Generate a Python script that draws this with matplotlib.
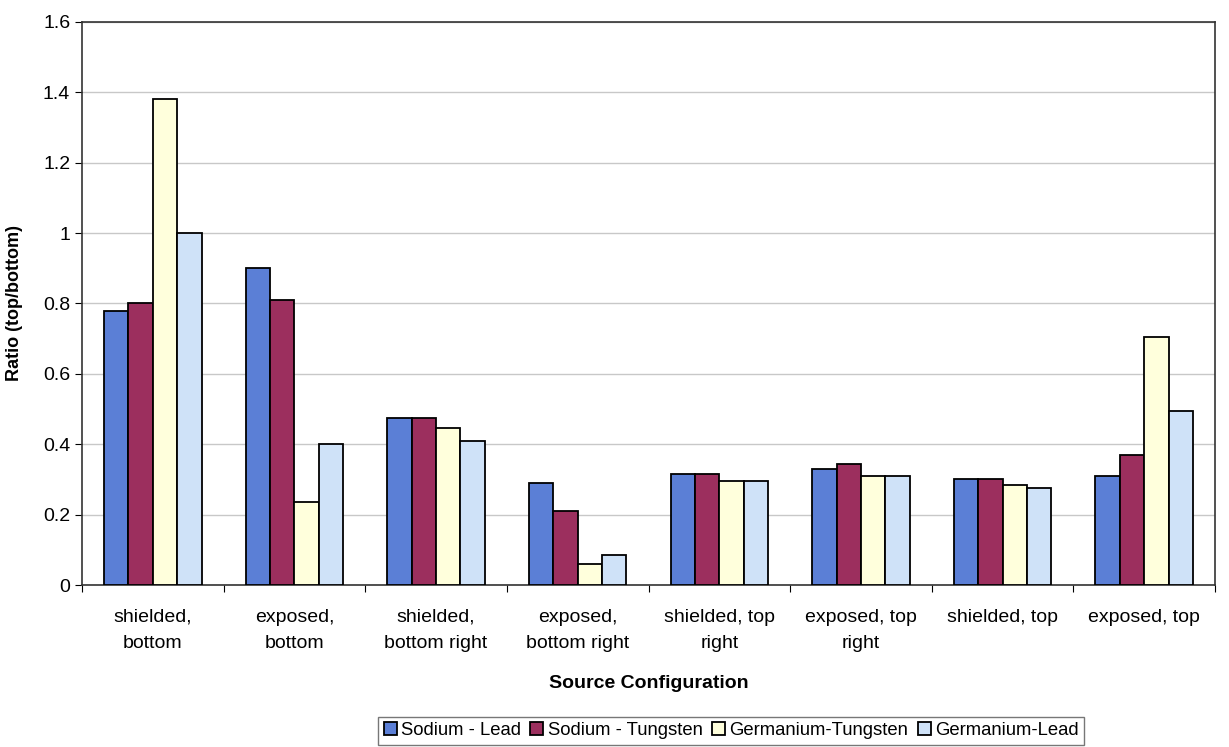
import numpy as np
import matplotlib.pyplot as plt

plt.rcParams['font.family'] = ['Liberation Sans', 'DejaVu Sans']

categories = ['shielded,\nbottom', 'exposed,\nbottom', 'shielded,\nbottom right',
              'exposed,\nbottom right', 'shielded, top\nright', 'exposed, top\nright',
              'shielded, top', 'exposed, top']
sodium_lead = [0.78, 0.90, 0.475, 0.29, 0.315, 0.33, 0.30, 0.31]
sodium_tungsten = [0.80, 0.81, 0.475, 0.21, 0.315, 0.345, 0.30, 0.37]
germanium_tungsten = [1.38, 0.235, 0.445, 0.06, 0.295, 0.31, 0.285, 0.705]
germanium_lead = [1.00, 0.40, 0.41, 0.085, 0.295, 0.31, 0.275, 0.495]

series = [('Sodium - Lead', sodium_lead, '#5b7fd6'),
          ('Sodium - Tungsten', sodium_tungsten, '#9c2f5e'),
          ('Germanium-Tungsten', germanium_tungsten, '#ffffdc'),
          ('Germanium-Lead', germanium_lead, '#cfe2f8')]

fig = plt.figure(figsize=(12.29, 7.47), dpi=100)
ax = fig.add_axes([82 / 1229, 1 - 585 / 747, (1215 - 82) / 1229, (585 - 22) / 747])

x = np.arange(len(categories))
w = 0.172
for i, (name, vals, col) in enumerate(series):
    ax.bar(x + (i - 1.5) * w, vals, w, color=col, edgecolor='black', linewidth=1.3, label=name, zorder=3)

ax.set_xlim(-0.5, len(categories) - 0.5)
ax.set_ylim(0, 1.6)
ax.set_yticks(np.arange(0, 1.61, 0.2))
ax.set_yticklabels(['0', '0.2', '0.4', '0.6', '0.8', '1', '1.2', '1.4', '1.6'])
ax.yaxis.grid(True, color='#c8c8c8', linewidth=1, zorder=0)
ax.set_xticks(np.arange(len(categories) + 1) - 0.5, minor=False)
ax.set_xticklabels([''] * (len(categories) + 1))
ax.set_xticks(x, minor=True)
ax.set_xticklabels(categories, minor=True, fontsize=14, linespacing=1.75)
ax.tick_params(axis='x', which='minor', length=0, pad=17)
ax.tick_params(axis='x', which='major', length=5, direction='out')
ax.tick_params(axis='y', labelsize=14, length=5)
for s in ax.spines.values():
    s.set_color('#333333')
    s.set_linewidth(1.2)

ax.set_xlabel('Source Configuration', fontsize=14, fontweight='bold', labelpad=16)
ax.set_ylabel('Ratio (top/bottom)', fontsize=13, fontweight='bold', labelpad=14)

leg = fig.legend(loc='center', bbox_to_anchor=(0.595, 0.022), ncol=4, fontsize=13.3,
                 frameon=True, fancybox=False, edgecolor='#555555', handlelength=0.7,
                 handletextpad=0.25, columnspacing=0.5, borderpad=0.3)

plt.savefig('out.png', dpi=100, facecolor='white')
